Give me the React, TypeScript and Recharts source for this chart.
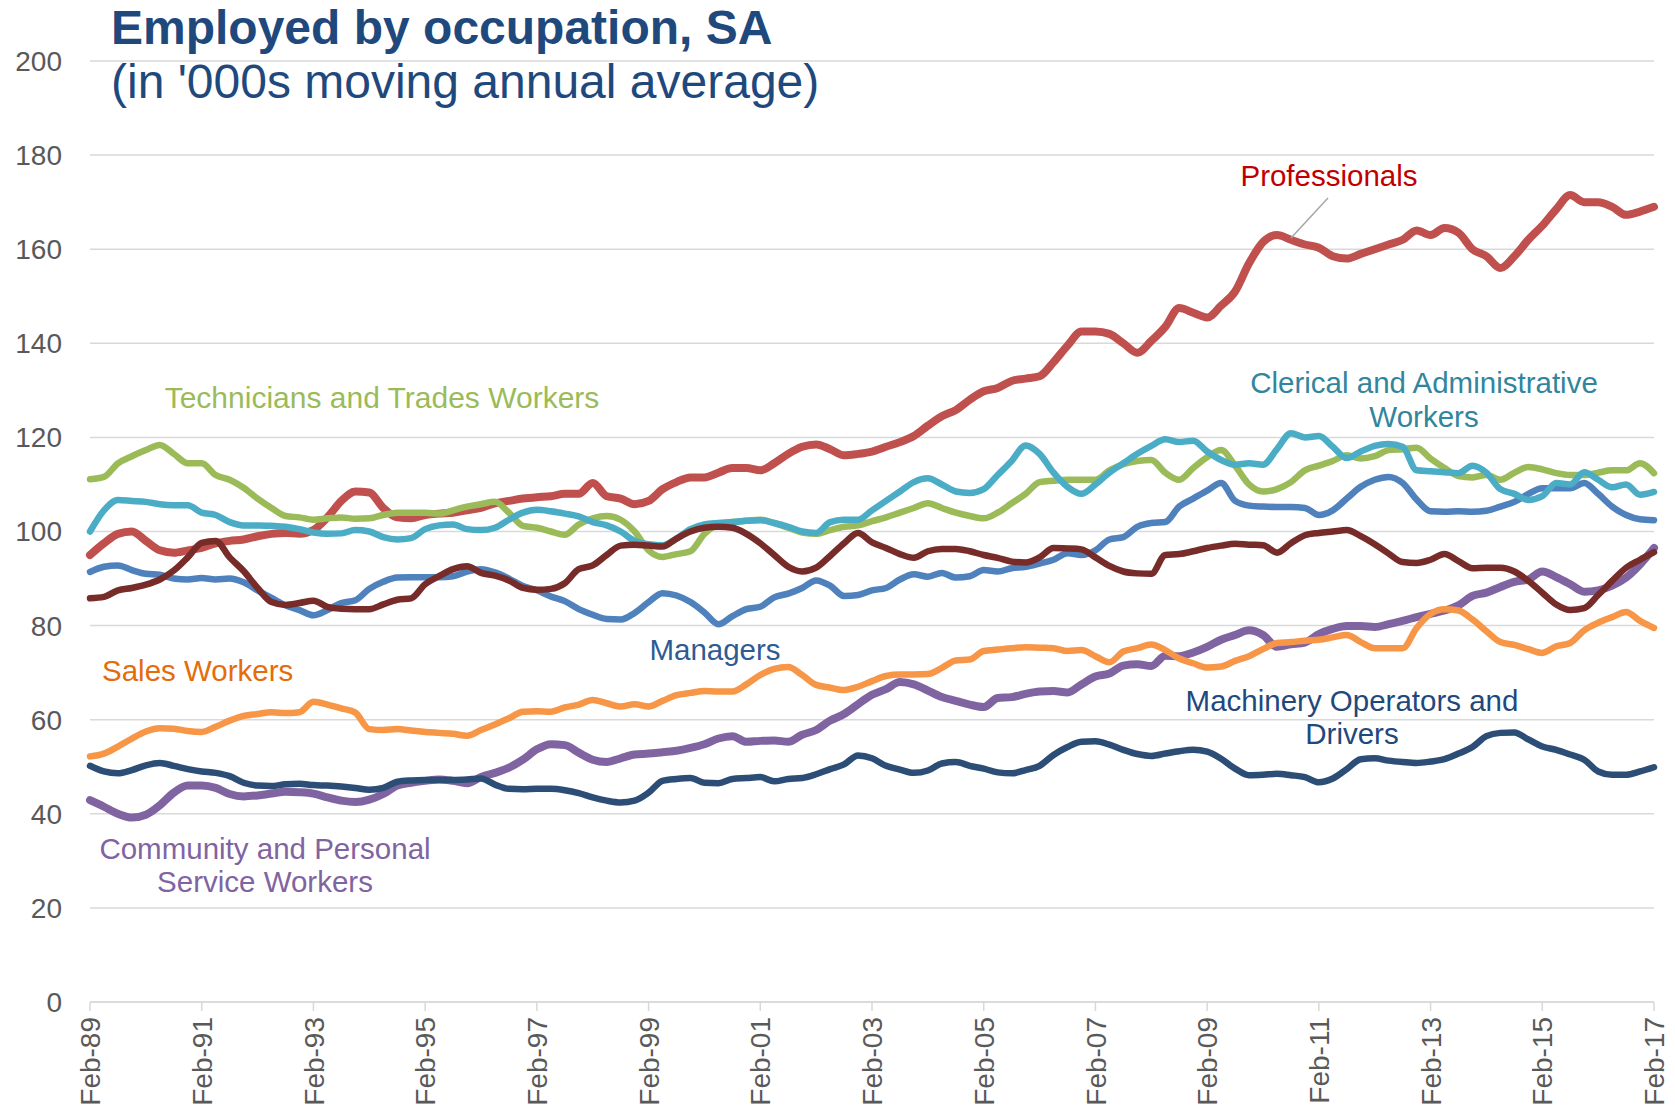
import React from "react";
import { LineChart, Line, XAxis, YAxis, CartesianGrid } from "recharts";

// quarterly points, Feb-89 .. Feb-17
const months = ["Feb", "May", "Aug", "Nov"];
const quarters: string[] = [];
for (let i = 0; i <= 112; i++) {
  const yy = (89 + Math.floor(i / 4)) % 100;
  quarters.push(`${months[i % 4]}-${String(yy).padStart(2, "0")}`);
}

const yTicks = [0, 20, 40, 60, 80, 100, 120, 140, 160, 180, 200];

const managers = [
  91.4, 92.5, 92.8, 91.8, 91, 90.8, 90, 89.8, 90.1, 89.8,
  90, 89.2, 87.5, 85.9, 84.3, 83.3, 82.2, 83.3, 84.8, 85.4,
  87.8, 89.3, 90.2, 90.3, 90.3, 90.3, 90.5, 91.5, 92, 91.3,
  90, 88.4, 87.5, 86.2, 85.2, 83.5, 82.3, 81.4, 81.3, 82.7,
  85, 86.9, 86.4, 85, 82.8, 80.3, 82, 83.5, 84, 86,
  86.8, 88, 89.6, 88.5, 86.3, 86.5, 87.5, 88, 89.8, 90.9,
  90.4, 91.2, 90.2, 90.5, 91.8, 91.5, 92.2, 92.5, 93.2, 94,
  95.4, 95, 96, 98.3, 98.8, 101, 101.8, 102, 105.3, 107,
  108.7, 110.3, 106.5, 105.5, 105.3, 105.2, 105.2, 105, 103.5, 104.5,
  107, 109.5, 111, 111.6, 110.3, 106.8, 104.3, 104.2, 104.3, 104.2,
  104.4, 105.3, 106.3, 108, 109.2, 109.2, 109.2, 110.3, 108, 105.3,
  103.5, 102.6, 102.4,
];

const professionals = [
  95, 97.5, 99.5, 100, 98, 96, 95.5, 96, 96.5, 97.5,
  98, 98.3, 99, 99.5, 99.7, 99.5, 100.3, 103, 106.5, 108.5,
  108.3, 105, 103, 102.8, 103.5, 103.8, 104, 104.5, 105, 106,
  106.5, 107, 107.3, 107.5, 108, 108, 110.3, 107.5, 107, 105.8,
  106.5, 109, 110.5, 111.5, 111.5, 112.5, 113.5, 113.5, 113, 114.5,
  116.5, 118, 118.5, 117.5, 116.2, 116.5, 117, 118, 119, 120.3,
  122.5, 124.5, 125.8, 128, 129.8, 130.5, 132, 132.5, 133, 136,
  139.5, 142.5, 142.5, 142, 140, 138, 140.5, 143.5, 147.5, 146.5,
  145.5, 148, 151, 157, 161.5, 163, 162, 161, 160.3, 158.5,
  158, 159, 160, 161, 162, 164, 163, 164.5, 163.5, 160,
  158.5, 156, 158.5, 162, 165, 168.5, 171.5, 170, 170, 169,
  167.3, 168, 169,
];

const technicians = [
  111.1, 111.6, 114.5, 116, 117.3, 118.4, 116.5, 114.5, 114.5, 112,
  111, 109.3, 107, 105, 103.3, 103, 102.5, 102.8, 103, 102.7,
  102.8, 103.5, 104, 104, 104, 103.8, 104.5, 105.3, 105.8, 106.3,
  104, 101.2, 100.8, 100, 99.3, 101.5, 102.8, 103.3, 102.5, 100,
  96, 94.6, 95.2, 95.8, 99.5, 101.5, 102, 102.3, 102.5, 101.8,
  100.8, 99.8, 99.5, 100.3, 101, 101.3, 102.2, 103, 104, 105,
  106, 105, 104, 103.3, 102.8, 104, 106, 108, 110.5, 110.8,
  111, 111, 111, 113, 114.3, 115, 115.2, 112.5, 111, 113.5,
  115.8, 117.3, 114, 110, 108.5, 109, 110.5, 113, 114, 115,
  116.2, 115.5, 116, 117.3, 117.5, 117.8, 115.5, 113.5, 111.8, 111.5,
  112, 111, 112.5, 113.7, 113.2, 112.4, 112, 112, 112.5, 113,
  113, 114.5, 112.4,
];

const community = [
  42.9, 41.5, 40, 39.2, 39.8, 41.8, 44.5, 46, 46, 45.5,
  44.2, 43.7, 43.9, 44.3, 44.7, 44.6, 44.3, 43.5, 42.8, 42.5,
  43, 44.2, 46, 46.6, 47, 47.3, 47, 46.5, 47.8, 48.7,
  49.8, 51.5, 53.7, 54.8, 54.6, 53, 51.5, 51, 51.8, 52.6,
  52.8, 53.1, 53.4, 54, 54.8, 56, 56.5, 55.3, 55.5, 55.6,
  55.3, 56.8, 57.8, 59.8, 61.2, 63.3, 65.3, 66.5, 68, 67.5,
  66.2, 64.8, 64, 63.2, 62.7, 64.6, 64.8, 65.5, 66, 66.1,
  65.8, 67.5, 69.2, 69.8, 71.5, 71.8, 71.4, 73.6, 73.5, 74.3,
  75.5, 77, 78, 79, 78, 75.5, 76, 76.4, 78.2, 79.3,
  79.9, 79.9, 79.7, 80.3, 81, 81.8, 82.5, 83.2, 84.3, 86.3,
  87, 88.2, 89.3, 89.8, 91.5, 90.3, 88.8, 87.2, 87.5, 88.5,
  90.2, 93, 96.5,
];

const clerical = [
  100, 104.5, 106.7, 106.5, 106.3, 105.8, 105.6, 105.6, 104, 103.5,
  102, 101.3, 101.3, 101.2, 101, 100.5, 99.8, 99.5, 99.6, 100.3,
  100, 98.8, 98.3, 98.6, 100.5, 101.3, 101.5, 100.5, 100.3, 100.8,
  102.5, 104, 104.6, 104.3, 103.8, 103.2, 102, 101.3, 100, 98,
  97.3, 97.1, 98.5, 100.5, 101.5, 101.8, 102, 102.3, 102.4, 101.8,
  101, 100, 99.7, 102, 102.5, 102.5, 104.5, 106.5, 108.5, 110.5,
  111.3, 110, 108.5, 108.2, 109, 112, 115, 118.3, 116.5, 112.5,
  109.5, 108, 110, 112.5, 114.5, 116.5, 118.2, 119.6, 119, 119.3,
  117, 115.2, 114.2, 114.5, 114.2, 117.5, 120.9, 120, 120.3, 118,
  115.6, 117, 118.2, 118.6, 118, 113, 112.8, 112.6, 112.4, 114,
  112.5, 109, 108, 106.7, 107.5, 110.3, 110, 112.6, 111, 109.4,
  110, 107.8, 108.4,
];

const sales = [
  52.2, 52.8, 54.3, 56, 57.5, 58.2, 58.1, 57.6, 57.4, 58.5,
  59.8, 60.8, 61.2, 61.6, 61.4, 61.6, 63.8, 63.2, 62.4, 61.5,
  58, 57.8, 58, 57.7, 57.4, 57.2, 57, 56.6, 57.8, 59,
  60.3, 61.7, 61.8, 61.7, 62.6, 63.2, 64.2, 63.5, 62.8, 63.3,
  62.8, 64, 65.2, 65.7, 66.1, 66, 66, 67.5, 69.5, 70.8,
  71.2, 69.5, 67.4, 66.8, 66.3, 67, 68.2, 69.3, 69.6, 69.6,
  69.7, 71, 72.6, 72.8, 74.6, 74.9, 75.2, 75.4, 75.3, 75.2,
  74.6, 74.8, 73.5, 72.2, 74.5, 75.2, 76, 74.8, 73, 72,
  71.1, 71.3, 72.5, 73.5, 75, 76.3, 76.5, 76.8, 77, 77.5,
  78, 76.5, 75.2, 75.2, 75.2, 79.5, 82.5, 83.5, 83.2, 81.3,
  78.8, 76.5, 75.9, 75, 74.2, 75.6, 76.3, 79, 80.6, 81.8,
  82.9, 81, 79.5,
];

const machinery = [
  50.2, 49, 48.6, 49.3, 50.3, 50.8, 50.2, 49.5, 49, 48.7,
  48, 46.6, 46, 45.9, 46.3, 46.4, 46.1, 46, 45.8, 45.5,
  45.1, 45.5, 46.8, 47.1, 47.2, 47.2, 47.2, 47.3, 47.5, 46.2,
  45.3, 45.2, 45.3, 45.3, 45, 44.4, 43.5, 42.8, 42.4, 42.8,
  44.5, 47, 47.4, 47.6, 46.6, 46.5, 47.4, 47.6, 47.8, 46.9,
  47.4, 47.6, 48.4, 49.5, 50.5, 52.4, 51.8, 50.2, 49.4, 48.7,
  49.2, 50.7, 51, 50.2, 49.6, 48.8, 48.6, 49.3, 50.2, 52.5,
  54.2, 55.3, 55.4, 54.7, 53.6, 52.7, 52.3, 52.8, 53.3, 53.6,
  53.2, 51.7, 49.6, 48.2, 48.3, 48.5, 48.2, 47.8, 46.7, 47.5,
  49.5, 51.6, 51.8, 51.3, 51, 50.8, 51.1, 51.6, 52.8, 54.2,
  56.5, 57.2, 57.3, 55.8, 54.3, 53.6, 52.6, 51.5, 49, 48.3,
  48.3, 49, 49.9,
];

const labourers = [
  85.8, 86.1, 87.5, 88, 88.7, 89.8, 91.7, 94.5, 97.6, 98,
  94.5, 91.6, 88, 85, 84.4, 84.8, 85.3, 84, 83.6, 83.5,
  83.5, 84.5, 85.5, 85.8, 88.8, 90.5, 92, 92.6, 91.2, 90.6,
  89.6, 88, 87.6, 87.8, 89, 92, 92.8, 95, 97, 97.2,
  97, 96.8, 98.5, 100, 100.8, 101, 100.8, 99.5, 97.5, 95,
  92.5, 91.5, 92.3, 94.8, 97.5, 99.7, 97.7, 96.5, 95.2, 94.4,
  95.8, 96.3, 96.3, 95.8, 95, 94.4, 93.6, 93.4, 94.5, 96.5,
  96.4, 96.2, 94.5, 92.7, 91.5, 91.1, 91, 95, 95.2, 95.8,
  96.5, 97, 97.4, 97.2, 97.1, 95.5, 97.5, 99.2, 99.7, 100,
  100.3, 99, 97.3, 95.3, 93.5, 93.3, 94, 95.2, 93.7, 92.2,
  92.3, 92.3, 91.5, 89.5, 87, 84.5, 83.3, 83.7, 86.5, 89.5,
  92.3, 94, 95.6,
];

// Excel default series order
const seriesList = [
  { key: "managers", values: managers, color: "#4F81BD", width: 6.5 },
  { key: "professionals", values: professionals, color: "#C0504D", width: 8 },
  { key: "technicians", values: technicians, color: "#9BBB59", width: 6.5 },
  { key: "community", values: community, color: "#8064A2", width: 8 },
  { key: "clerical", values: clerical, color: "#4BACC6", width: 6.5 },
  { key: "sales", values: sales, color: "#F79646", width: 6.5 },
  { key: "machinery", values: machinery, color: "#2C4D75", width: 6.5 },
  { key: "labourers", values: labourers, color: "#772C2A", width: 6.5 },
];

const data = quarters.map((q, i) => {
  const row: Record<string, string | number> = { quarter: q };
  seriesList.forEach((s) => {
    row[s.key] = s.values[i];
  });
  return row;
});

const FONT = "'Liberation Sans', Arial, Helvetica, sans-serif";

const DateTick = (props: any) => {
  const { x, y, payload } = props;
  return (
    <text
      x={x}
      y={y}
      transform={`rotate(-90, ${x}, ${y})`}
      textAnchor="end"
      dy="0.36em"
      fill="#595959"
      fontSize={28}
      fontFamily={FONT}
    >
      {payload.value}
    </text>
  );
};

const labelStyle = { fontFamily: FONT, fontSize: 29.5 };

export default function App() {
  return (
    <div style={{ position: "absolute", left: 0, top: 0, width: 1675, height: 1108, background: "#fff" }}>
      <LineChart
        width={1675}
        height={1108}
        data={data}
        margin={{ top: 61, right: 21, left: 0, bottom: 0 }}
        style={{ fontFamily: FONT }}
      >
        <CartesianGrid vertical={false} stroke="#D9D9D9" strokeWidth={1.5} />
        <XAxis
          dataKey="quarter"
          scale="point"
          interval={7}
          height={106}
          tickSize={9}
          tickMargin={6}
          axisLine={{ stroke: "#D9D9D9", strokeWidth: 1.5 }}
          tickLine={{ stroke: "#D9D9D9", strokeWidth: 1.5 }}
          tick={<DateTick />}
        />
        <YAxis
          width={90}
          domain={[0, 200]}
          ticks={yTicks}
          interval={0}
          axisLine={false}
          tickLine={false}
          tickMargin={22}
          tick={{ fill: "#595959", fontSize: 28, fontFamily: FONT }}
        />
        {seriesList.map((s) => (
          <Line
            key={s.key}
            dataKey={s.key}
            type="monotone"
            stroke={s.color}
            strokeWidth={s.width}
            strokeLinejoin="round"
            strokeLinecap="round"
            dot={false}
            activeDot={false}
            isAnimationActive={false}
          />
        ))}
      </LineChart>

      <svg
        width={1675}
        height={1108}
        style={{ position: "absolute", left: 0, top: 0, pointerEvents: "none" }}
      >
        <text x={111} y={44} fontFamily={FONT} fontSize={48} fontWeight="bold" fill="#1F497D">
          Employed by occupation, SA
        </text>
        <text x={111} y={98} fontFamily={FONT} fontSize={48} fill="#1F497D">
          (in '000s moving annual average)
        </text>

        <line x1={1328} y1={198} x2={1291} y2={238} stroke="#A6A6A6" strokeWidth={1.5} />
        <text x={1329} y={186} textAnchor="middle" fill="#C00000" {...labelStyle}>Professionals</text>

        <text x={382} y={408} textAnchor="middle" fill="#9BBB59" {...labelStyle} fontSize={30}>Technicians and Trades Workers</text>

        <text x={1424} y={393} textAnchor="middle" fill="#31859C" {...labelStyle}>Clerical and Administrative</text>
        <text x={1424} y={427} textAnchor="middle" fill="#31859C" {...labelStyle}>Workers</text>

        <text x={102} y={681} textAnchor="start" fill="#E46C0A" {...labelStyle}>Sales Workers</text>

        <text x={715} y={660} textAnchor="middle" fill="#2E5B93" {...labelStyle}>Managers</text>

        <text x={1352} y={711} textAnchor="middle" fill="#1F497D" {...labelStyle}>Machinery Operators and</text>
        <text x={1352} y={744} textAnchor="middle" fill="#1F497D" {...labelStyle}>Drivers</text>

        <text x={265} y={859} textAnchor="middle" fill="#8064A2" {...labelStyle}>Community and Personal</text>
        <text x={265} y={892} textAnchor="middle" fill="#8064A2" {...labelStyle}>Service Workers</text>
      </svg>
    </div>
  );
}
